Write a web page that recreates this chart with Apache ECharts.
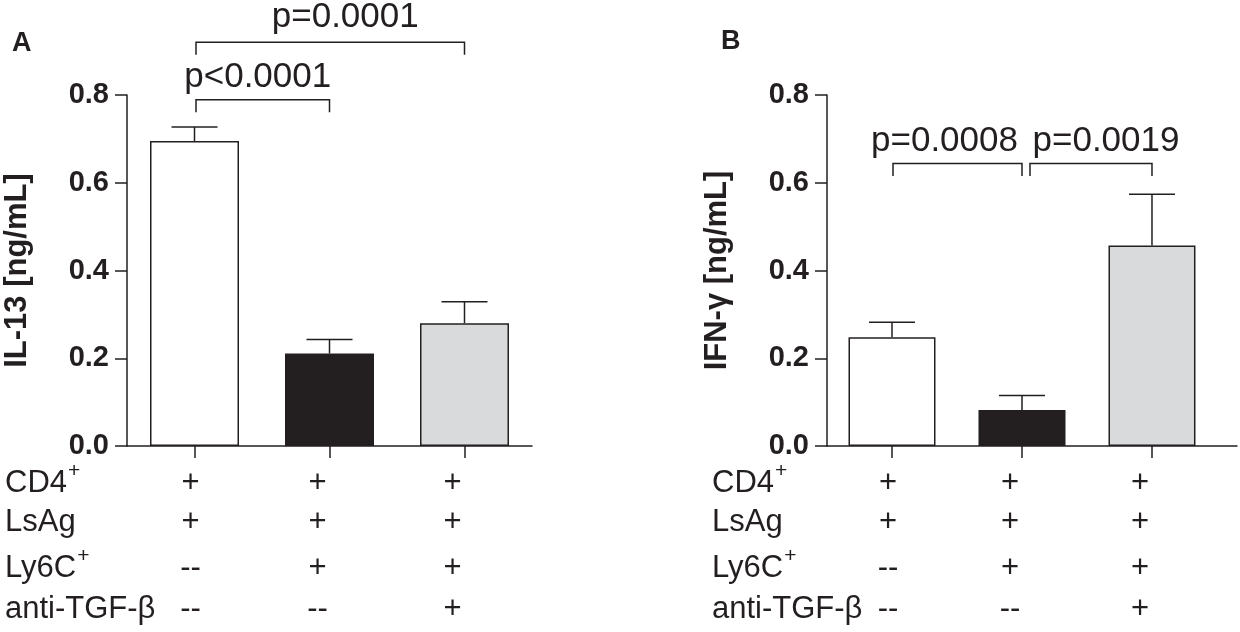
<!DOCTYPE html>
<html><head><meta charset="utf-8">
<script src="https://cdn.jsdelivr.net/npm/echarts@6/dist/echarts.min.js"></script>
<style>html,body{margin:0;padding:0;background:#fff}#c{width:1240px;height:632px}</style>
</head><body><div id="c"></div>
<script>
// ---------- data ----------
const groups = ['CD4+ LsAg', 'CD4+ LsAg Ly6C+', 'CD4+ LsAg Ly6C+ anti-TGF-β'];
const il13Mean = [0.695, 0.211, 0.280];
const il13Sem = [0.032, 0.032, 0.049];
const ifngMean = [0.248, 0.082, 0.457];
const ifngSem = [0.034, 0.033, 0.117];
const yTickValues = [0, 0.2, 0.4, 0.6, 0.8];
const rowLabels = ['CD4', 'LsAg', 'Ly6C', 'anti-TGF-β'];
const rowSup = ['+', '', '+', ''];
const rowSigns = [['+', '+', '+'], ['+', '+', '+'], ['--', '+', '+'], ['--', '--', '+']];
const il13Brackets = [[0, 1, 0.789, 'p<0.0001'], [0, 2, 0.920, 'p=0.0001']];
const ifngBrackets = [[0, 1, 0.644, 'p=0.0008'], [1, 2, 0.644, 'p=0.0019']];
const panelTitles = ['A', 'B'];
const yNames = ['IL-13 [ng/mL]', 'IFN-γ [ng/mL]'];

// ---------- style ----------
const INK = '#231f20';
const FONT = '"Liberation Sans", Arial, Helvetica, sans-serif';
const barColors = ['#ffffff', '#231f20', '#d9dadb'];
const panels = [
  { mean: il13Mean, sem: il13Sem, brackets: il13Brackets, grid: { left: 127, top: 95, width: 405, height: 351 }, xMax: 2.5, barWidth: 89,
    bracketStart: [1.5, 1.5], labelShift: [-5, 15], labelLift: [22, 25], labelInset: 122, titlePos: [12, 30] },
  { mean: ifngMean, sem: ifngSem, brackets: ifngBrackets, grid: { left: 827, top: 95, width: 410, height: 351 }, xMax: 2.654, barWidth: 87,
    bracketStart: [1, 8], labelShift: [-13, 15], labelLift: [22, 22], labelInset: 115, titlePos: [721, 28] }
];
const rowOffsets = [37, 76, 122, 163];
const colShift = [-4, -12, -12];
const LW = 1.5;

const mctx = document.createElement('canvas').getContext('2d');
function textWidth(t, font) { mctx.font = font; return mctx.measureText(t).width; }
const ROW_FONT = '31px ' + FONT;

const grid = [], xAxis = [], yAxis = [], series = [], graphic = [];
panels.forEach((p, i) => {
  grid.push(p.grid);
  xAxis.push({
    type: 'value', gridIndex: i, min: -0.5, max: p.xMax,
    axisLine: { show: true, onZero: false, lineStyle: { color: INK, width: LW } },
    axisTick: { show: true, customValues: [0, 1, 2], length: 12, lineStyle: { color: INK, width: LW } },
    axisLabel: { show: false }, splitLine: { show: false }
  });
  yAxis.push({
    type: 'value', gridIndex: i, min: yTickValues[0], max: yTickValues[yTickValues.length - 1], interval: 0.2,
    axisLine: { show: true, onZero: false, lineStyle: { color: INK, width: LW } },
    axisTick: { show: true, length: 12, lineStyle: { color: INK, width: LW } },
    axisLabel: { formatter: v => v.toFixed(1), fontSize: 29, fontWeight: 'bold', color: INK, fontFamily: FONT, margin: 18 },
    splitLine: { show: false },
    name: yNames[i], nameLocation: 'middle', nameRotate: 90, nameGap: 94,
    nameTextStyle: { fontSize: 31, fontWeight: 'bold', color: INK, fontFamily: FONT }
  });
  series.push({
    type: 'bar', xAxisIndex: i, yAxisIndex: i, barWidth: p.barWidth, silent: true,
    itemStyle: { borderColor: INK, borderWidth: LW },
    data: p.mean.map((v, j) => ({ value: [j, v], name: groups[j], itemStyle: { color: barColors[j] } })),
    z: 2
  });
  series.push({
    type: 'custom', xAxisIndex: i, yAxisIndex: i, silent: true, z: 3,
    data: p.mean.map((v, j) => [j, v, p.sem[j]]),
    renderItem: (params, api) => {
      const x = api.value(0), m = api.value(1), s = api.value(2);
      const b = api.coord([x, m]), t = api.coord([x, m + s]);
      const st = { stroke: INK, lineWidth: LW };
      return { type: 'group', children: [
        { type: 'line', shape: { x1: b[0], y1: b[1], x2: t[0], y2: t[1] }, style: st },
        { type: 'line', shape: { x1: t[0] - 23, y1: t[1], x2: t[0] + 23, y2: t[1] }, style: st }
      ] };
    }
  });
  series.push({
    type: 'custom', xAxisIndex: i, yAxisIndex: i, silent: true, clip: false, z: 4,
    data: p.brackets.map((b, k) => [b[0], b[2], b[1], k]),
    renderItem: (params, api) => {
      const k = api.value(3);
      const br = p.brackets[k];
      const a = api.coord([br[0], br[2]]), c = api.coord([br[1], br[2]]);
      const x1 = a[0] + p.bracketStart[k], x2 = c[0], y = a[1];
      return { type: 'group', children: [
        { type: 'polyline', shape: { points: [[x1, y + 12.5], [x1, y], [x2, y], [x2, y + 12.5]] }, style: { stroke: INK, lineWidth: LW, fill: null } },
        { type: 'text', style: { text: br[3], x: (x1 + x2) / 2 + p.labelShift[k], y: y - p.labelLift[k], align: 'center', verticalAlign: 'middle', font: '35px ' + FONT, fill: INK } }
      ] };
    }
  });
  series.push({
    type: 'custom', xAxisIndex: i, yAxisIndex: i, silent: true, clip: false, z: 4,
    data: rowLabels.map((_, r) => [0, 0, r]),
    renderItem: (params, api) => {
      const r = api.value(2);
      const base = api.coord([0, 0])[1];
      const y = base + rowOffsets[r];
      const lx = api.coord([-0.5, 0])[0] - p.labelInset;
      const children = [
        { type: 'text', style: { text: rowLabels[r], x: lx, y: y, align: 'left', verticalAlign: 'middle', font: ROW_FONT, fill: INK } }
      ];
      if (rowSup[r]) {
        const w = textWidth(rowLabels[r], ROW_FONT);
        children.push({ type: 'text', style: { text: rowSup[r], x: lx + w + 1, y: y - 12, align: 'left', verticalAlign: 'middle', font: '21px ' + FONT, fill: INK } });
      }
      rowSigns[r].forEach((sg, c) => {
        const cx = api.coord([c, 0])[0] + colShift[c];
        children.push({ type: 'text', style: { text: sg, x: cx, y: y, align: 'center', verticalAlign: 'middle', font: ROW_FONT, fill: INK } });
      });
      return { type: 'group', children };
    }
  });
  graphic.push({ type: 'text', left: p.titlePos[0], top: p.titlePos[1], style: { text: panelTitles[i], font: 'bold 27px ' + FONT, fill: INK } });
});

const chart = echarts.init(document.getElementById('c'), null, { renderer: 'canvas' });
chart.setOption({ animation: false, backgroundColor: '#fff', grid, xAxis, yAxis, series, graphic });
</script>
</body></html>
